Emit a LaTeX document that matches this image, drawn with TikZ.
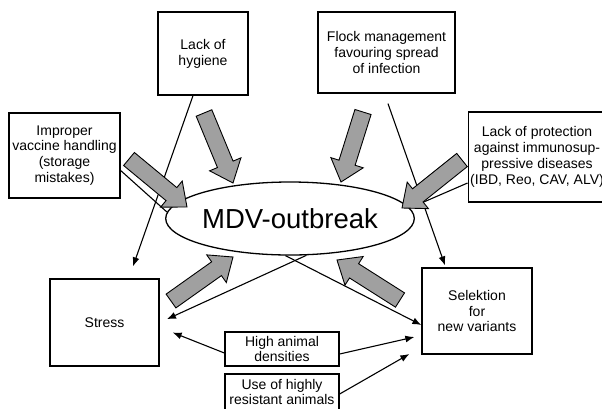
\documentclass[tikz,border=0pt]{standalone}
\usepackage{fontspec}
\setmainfont{Liberation Sans}
\usetikzlibrary{arrows.meta,shapes.arrows,shapes.geometric,calc}
\definecolor{arrowgray}{RGB}{160,160,160}

% grey block arrow from #1 (tail) to #2 (tip)
\newcommand{\fatarrow}[2]{%
  \path let \p1=#1, \p2=#2,
    \n1={atan2(\y2-\y1,\x2-\x1)}, \n2={veclen(\x2-\x1,\y2-\y1)} in
    (\p1) node[blockarr, minimum height=\n2, rotate=\n1, anchor=tail] {};}

\begin{document}
\begin{tikzpicture}[x=1pt, y=-1pt,
      box/.style={draw, line width=1.3pt, align=center, inner sep=2pt,
                  font=\fontsize{14}{15.8}\selectfont},
      conn/.style={line width=1.1pt, -{Latex[length=9pt, width=7pt]}},
      blockarr/.style={single arrow, draw, line width=0.9pt, fill=arrowgray,
                       inner sep=8pt, outer sep=0pt,
                       single arrow head extend=8.5pt, single arrow tip angle=80}]
    \useasboundingbox (0,0) rectangle (602,408);
    % causes
    \node[box, minimum width=90, minimum height=83] (hyg) at (203,53.5)
      {Lack of\\hygiene};
    \node[box, minimum width=111, minimum height=85] (vac) at (64.5,155.5)
      {Improper\\vaccine handling\\(storage\\mistakes)};
    \node[box, minimum width=137, minimum height=81] (flock) at (386.5,52.5)
      {Flock management\\favouring spread\\of infection};
    \node[box, minimum width=134, minimum height=90] (prot) at (537,157)
      {Lack of protection\\against immunosup-\\pressive diseases\\(IBD, Reo, CAV, ALV)};
    % outbreak
    \node[draw, ellipse, line width=1.3pt, minimum width=206, minimum height=73,
          inner sep=0pt, font=\fontsize{27.5}{30}\selectfont] (mdv) at (290,218.5)
      {MDV-outbreak};
    % consequences
    \node[box, minimum width=109, minimum height=87] (stress) at (104.5,322.5) {Stress};
    \node[box, minimum width=110, minimum height=86] (sel) at (477,311)
      {Selektion\\for\\new variants};
    \node[box, minimum width=114, minimum height=34] (high) at (282,349)
      {High animal\\densities};
    \node[box, minimum width=114, minimum height=36] (use) at (282,392)
      {Use of highly\\resistant animals};
    % thin connectors
    \draw[conn] ([xshift=-10pt]hyg.south) -- ([xshift=28.5pt,yshift=12pt]stress.north);
    \draw[line width=1.1pt] ([yshift=-15pt]vac.east) -- (mdv.177);
    \draw[conn] ([xshift=1.5pt,yshift=-10pt]flock.south) -- ([xshift=-32pt,yshift=2pt]sel.north);
    \draw[line width=1.1pt] (mdv.5) -- ([yshift=-26pt]prot.west);
    \draw[conn, shorten >=8pt] (mdv.-66) -- (stress.east);
    \draw[conn] (mdv.-97) -- ([yshift=-14pt]sel.west);
    \draw[conn] ([yshift=-4pt]high.west) -- ([xshift=13pt,yshift=-10pt]stress.east);
    \draw[conn] ([yshift=-5pt]high.east) -- ([xshift=-7pt,yshift=-26pt]sel.west);
    \draw[conn] ([yshift=-2pt]use.east) -- ([xshift=-12pt,yshift=-43pt]sel.west);
    % grey block arrows
    \foreach \xa/\ya/\xb/\yb in {204/113/233/183, 129/159/187/207, 363/112/341/182,
                                 462/160/402/208, 171/301/233/257, 400/300/337/260}
      \fatarrow{(\xa,\ya)}{(\xb,\yb)};
  \end{tikzpicture}
\end{document}
